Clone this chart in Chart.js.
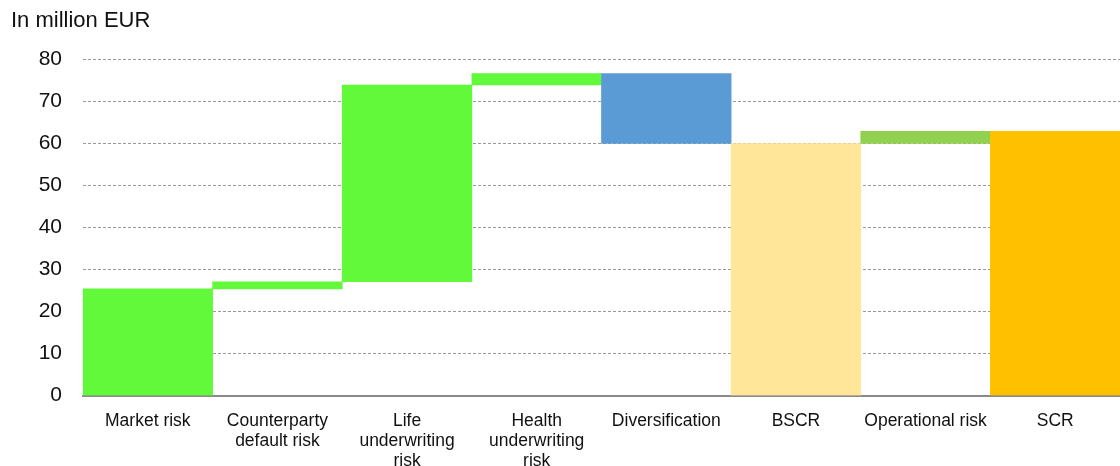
<!DOCTYPE html>
<html><head><meta charset="utf-8">
<script src="https://cdn.jsdelivr.net/npm/chart.js@4/dist/chart.umd.min.js"></script>
<style>html,body{margin:0;padding:0;background:#fff}#wrap{width:1120px;height:466px}</style>
</head><body><div id="wrap"><canvas id="c" width="1120" height="466"></canvas></div>
<script>
const categories = ["Market risk", ["Counterparty","default risk"], ["Life","underwriting","risk"], ["Health","underwriting","risk"], "Diversification", "BSCR", "Operational risk", "SCR"];
const barStart = [0, 25.4, 27.1, 73.9, 76.6, 0, 60.0, 0];
const barEnd   = [25.4, 27.1, 73.9, 76.6, 60.0, 60.0, 62.9, 62.9];
const yTicks = [0, 10, 20, 30, 40, 50, 60, 70, 80];
const barColors = ["#62F93A","#62F93A","#62F93A","#62F93A","#5B9BD5","#FFE699","#92D050","#FFC000"];

const FONT = 'Liberation Sans, Arial, sans-serif';
const data = categories.map((c, i) => [barStart[i], barEnd[i]]);
new Chart(document.getElementById('c'), {
  type: 'bar',
  data: { labels: categories, datasets: [{ data: data, backgroundColor: barColors, borderWidth: 0, barPercentage: 1, categoryPercentage: 1 }] },
  options: {
    responsive: false, animation: false,
    layout: { padding: { left: 11, right: 0, top: 0, bottom: -12 } },
    plugins: {
      legend: { display: false }, tooltip: { enabled: false },
      title: { display: true, text: 'In million EUR', align: 'start', color: '#111',
        font: { family: FONT, size: 22, weight: 'normal', lineHeight: 1.2 },
        padding: { top: 8, bottom: 25 } }
    },
    scales: {
      x: {
        grid: { display: false },
        border: { display: true, color: '#8a8a8a', width: 2 },
        ticks: { color: '#111', maxRotation: 0, autoSkip: false, padding: 7,
          font: { family: FONT, size: 17.5, lineHeight: 1.15 } }
      },
      y: {
        min: 0, max: 80,
        afterFit: (s) => { s.width = 72; },
        afterBuildTicks: (s) => { s.ticks = yTicks.map(v => ({ value: v })); },
        grid: { color: '#9a9a9a', lineWidth: 1, drawTicks: false },
        border: { display: false, dash: [3, 2] },
        ticks: { color: '#111', padding: 21,
          font: { family: FONT, size: 21 } }
      }
    }
  }
});
</script></body></html>
